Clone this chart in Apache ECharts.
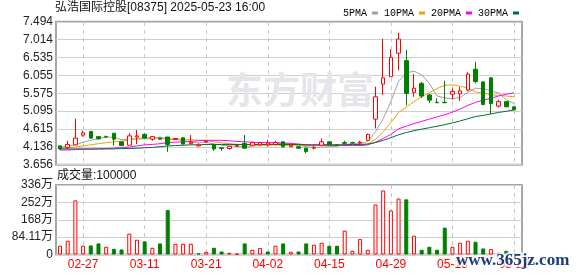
<!DOCTYPE html>
<html><head><meta charset="utf-8">
<script src="https://cdn.jsdelivr.net/npm/echarts@6/dist/echarts.min.js"></script>
<style>html,body{margin:0;padding:0;background:#fff}#c{width:578px;height:276px}</style>
</head><body><div id="c"></div>
<script>
const dates = ['02-24','02-25','02-26','02-27','02-28','03-03','03-04','03-05','03-06','03-07',
  '03-10','03-11','03-12','03-13','03-14','03-17','03-18','03-19','03-20','03-21',
  '03-24','03-25','03-26','03-27','03-28','03-31','04-01','04-02','04-03','04-07',
  '04-08','04-09','04-10','04-11','04-14','04-15','04-16','04-17','04-22','04-23',
  '04-24','04-25','04-28','04-29','04-30','05-02','05-06','05-07','05-08','05-09',
  '05-12','05-13','05-14','05-15','05-16','05-19','05-20','05-21','05-22','05-23'];
// [open, close, low, high]
const ohlc = [
  [4.16,4.08,4.06,4.17],[4.12,4.20,4.07,4.30],[4.19,4.37,4.18,4.89],[4.45,4.51,4.41,4.57],[4.55,4.37,4.36,4.55],
  [4.41,4.35,4.33,4.43],[4.41,4.40,4.37,4.44],[4.50,4.34,4.17,4.50],[4.27,4.17,4.16,4.28],[4.18,4.43,4.18,4.50],
  [4.40,4.43,4.21,4.59],[4.47,4.37,4.35,4.50],[4.34,4.41,4.30,4.42],[4.37,4.34,4.33,4.38],[4.40,4.20,4.00,4.40],
  [4.33,4.36,4.32,4.37],[4.38,4.21,4.20,4.39],[4.22,4.26,4.20,4.45],[4.16,4.19,4.14,4.23],[4.27,4.29,4.25,4.31],
  [4.20,4.08,4.03,4.21],[4.11,4.09,4.03,4.11],[4.09,4.15,4.06,4.16],[4.15,4.17,4.14,4.18],[4.23,4.10,4.08,4.45],
  [4.18,4.25,4.16,4.27],[4.19,4.25,4.17,4.27],[4.19,4.24,4.14,4.32],[4.20,4.25,4.17,4.30],[4.27,4.14,4.12,4.28],
  [4.14,4.18,4.13,4.20],[4.14,4.10,4.09,4.15],[4.10,4.01,3.96,4.11],[4.10,4.11,4.07,4.18],[4.18,4.27,4.17,4.36],
  [4.27,4.19,4.18,4.28],[4.19,4.18,4.17,4.20],[4.25,4.23,4.20,4.30],[4.25,4.24,4.22,4.27],[4.24,4.26,4.22,4.30],
  [4.31,4.47,4.30,4.49],[4.88,5.48,4.63,5.75],[5.82,5.99,5.53,7.04],[6.02,6.54,6.02,6.76],[6.65,7.03,6.19,7.20],
  [6.45,5.57,5.25,6.74],[5.60,5.71,5.48,6.09],[5.84,5.50,5.45,5.88],[5.53,5.39,5.31,5.55],[5.33,5.32,5.32,5.44],
  [5.33,5.32,5.31,5.91],[5.55,5.62,5.40,5.70],[5.56,5.64,5.37,5.74],[5.66,6.09,5.63,6.14],[6.22,5.89,5.84,6.42],
  [5.88,5.27,5.26,5.89],[5.99,5.30,5.02,6.00],[5.23,5.35,5.19,5.40],[5.35,5.21,5.21,5.35],[5.21,5.13,5.12,5.21]
];
const volumes = [424000,667000,2620000,424000,439000,536000,374000,276000,244000,1010000,
  715000,634000,325000,536000,2150000,520000,520000,520000,50000,130000,
  325000,146000,80000,35000,536000,228000,309000,146000,424000,536000,
  130000,146000,536000,472000,569000,424000,424000,1155000,179000,748000,
  228000,2420000,3100000,2130000,2710000,2670000,910000,228000,374000,228000,
  1300000,374000,569000,667000,618000,293000,260000,98000,179000,80000];
const volDir = ['r','r','r','r','g','g','r','g','g','r','r','g','r','g','g','r','r','r','g','r',
  'g','g','r','r','g','r','r','g','r','g','r','g','g','r','r','g','g','r','r','r',
  'r','r','r','r','r','g','r','g','g','g','g','r','r','r','g','g','r','r','g','g'];
const ma5 = [4.13,4.15,4.19,4.26,4.31,4.36,4.40,4.39,4.33,4.34,4.35,4.35,4.36,4.40,4.35,4.34,4.30,4.27,4.24,4.26,
  4.21,4.18,4.16,4.16,4.12,4.15,4.18,4.20,4.22,4.23,4.21,4.18,4.14,4.11,4.13,4.14,4.15,4.20,4.22,4.22,
  4.28,4.54,4.89,5.35,5.90,6.12,6.17,6.07,5.84,5.50,5.45,5.43,5.46,5.60,5.71,5.70,5.64,5.58,5.40,5.30];
const ma10 = [4.10,4.11,4.13,4.16,4.19,4.22,4.25,4.27,4.29,4.32,4.36,4.38,4.38,4.36,4.34,4.35,4.33,4.32,4.32,4.31,
  4.27,4.24,4.22,4.20,4.19,4.18,4.18,4.18,4.19,4.17,4.18,4.18,4.17,4.16,4.18,4.17,4.17,4.17,4.17,4.18,
  4.21,4.34,4.54,4.79,5.06,5.20,5.35,5.48,5.59,5.70,5.79,5.80,5.76,5.72,5.61,5.58,5.53,5.52,5.50,5.48];
const ma20 = [4.05,4.05,4.06,4.07,4.07,4.08,4.09,4.10,4.12,4.13,4.16,4.19,4.20,4.22,4.25,4.26,4.27,4.28,4.30,4.31,
  4.31,4.31,4.30,4.28,4.27,4.26,4.25,4.25,4.25,4.24,4.23,4.21,4.19,4.18,4.19,4.18,4.18,4.17,4.18,4.17,
  4.19,4.26,4.36,4.47,4.62,4.69,4.76,4.82,4.88,4.94,5.00,5.07,5.15,5.25,5.33,5.39,5.44,5.50,5.55,5.59];
const ma30 = [4.08,4.08,4.08,4.08,4.08,4.08,4.08,4.08,4.09,4.09,4.10,4.11,4.12,4.14,4.16,4.17,4.18,4.19,4.19,4.20,
  4.20,4.20,4.20,4.20,4.20,4.20,4.20,4.20,4.20,4.20,4.20,4.20,4.19,4.19,4.19,4.19,4.19,4.19,4.20,4.20,
  4.21,4.25,4.31,4.38,4.46,4.52,4.57,4.61,4.65,4.69,4.73,4.78,4.83,4.89,4.95,4.98,5.02,5.06,5.09,5.13];
const priceTicks = ['3.656','4.136','4.615','5.095','5.575','6.055','6.535','7.014','7.494'];
const volTicks = ['0','84.11万','168万','252万','336万'];
const priceMin = 3.656, priceMax = 7.494, volMax = 3364400;

const FONT = '"Liberation Sans", Arial, "Noto Sans CJK SC"';
const chart = echarts.init(document.getElementById('c'), null, {renderer: 'canvas'});
const dashed = {show: true, interval: (i) => i % 8 === 3, lineStyle: {color: '#c8c8c8', type: [4, 4], width: 1}};
const PT = 21.8, PH = 142.9, VT = 185, VH = 69.5;

const volData = volumes.map((v, i) => ({
  value: v,
  itemStyle: volDir[i] === 'r'
    ? {color: '#ffffff', borderColor: '#ff0000', borderWidth: 1}
    : {color: '#008000', borderColor: '#008000', borderWidth: 1}
}));

const ma = (name, data, color) => ({
  name, type: 'line', xAxisIndex: 0, yAxisIndex: 0, data, symbol: 'none',
  lineStyle: {color, width: 1}, itemStyle: {color}, z: 3, clip: false
});

chart.setOption({
  animation: false,
  textStyle: {fontFamily: FONT},
  grid: [
    {left: 60, top: PT, width: 454, height: PH},
    {left: 56, top: PT, width: 466, height: PH, show: true, borderColor: '#a6a6a6', borderWidth: 2},
    {left: 60, top: VT, width: 454, height: VH},
    {left: 56, top: VT, width: 466, height: VH, show: true, borderColor: '#a6a6a6', borderWidth: 2}
  ],
  xAxis: [
    {type: 'category', gridIndex: 0, data: dates, boundaryGap: false,
     axisLine: {show: false}, axisTick: {show: false}, axisLabel: {show: false}, splitLine: dashed},
    {type: 'value', gridIndex: 1, show: false, min: 0, max: 1},
    {type: 'category', gridIndex: 2, data: dates, boundaryGap: false,
     axisLine: {show: false}, axisTick: {show: false},
     axisLabel: {show: true, interval: (i) => i % 8 === 3, color: '#ff0000', fontSize: 12, margin: 4, fontFamily: FONT},
     splitLine: dashed},
    {type: 'value', gridIndex: 3, show: false, min: 0, max: 1}
  ],
  yAxis: [
    {type: 'value', gridIndex: 0, show: false, min: priceMin, max: priceMax, splitLine: {show: false}},
    {type: 'value', gridIndex: 1, min: 0, max: priceTicks.length - 1, interval: 1,
     axisLine: {show: false}, axisTick: {show: false},
     axisLabel: {formatter: (v) => priceTicks[v], color: '#222', fontSize: 12, margin: 3, fontFamily: FONT},
     splitLine: {show: true, lineStyle: {color: '#cfcfcf', width: 1}}},
    {type: 'value', gridIndex: 2, show: false, min: 0, max: volMax, splitLine: {show: false}},
    {type: 'value', gridIndex: 3, min: 0, max: volTicks.length - 1, interval: 1,
     axisLine: {show: false}, axisTick: {show: false},
     axisLabel: {formatter: (v) => volTicks[v], color: '#222', fontSize: 12, margin: 3, fontFamily: FONT},
     splitLine: {show: true, lineStyle: {color: '#cfcfcf', width: 1}}}
  ],
  legend: {
    left: 338, top: 3, itemGap: 6, align: 'right', icon: 'rect', itemWidth: 6, itemHeight: 3,
    textStyle: {fontFamily: '"Liberation Mono", monospace', fontSize: 10, color: '#000'},
    data: ['5PMA', '10PMA', '20PMA', '30PMA']
  },
  graphic: [
    {type: 'text', left: 55, top: 2, z: 10,
     style: {text: '弘浩国际控股[08375] 2025-05-23 16:00', font: '12px ' + FONT, fill: '#111'}},
    {type: 'text', left: 57, top: 170, z: 10,
     style: {text: '成交量:100000', font: '12px ' + FONT, fill: '#111'}},
    {type: 'text', left: 226, top: 71, z: 1, silent: true,
     style: {text: '东方财富', font: 'bold 37px "Noto Sans CJK SC"', fill: '#e6e6ea'}},
    {type: 'text', left: 454, top: 250, z: 100, silent: true,
     style: {text: 'www.365jz.com', font: 'bold 17px "Liberation Serif", serif', fill: '#1d3c7c',
             stroke: 'rgba(255,255,255,0.75)', lineWidth: 4}}
  ],
  series: [
    {type: 'candlestick', xAxisIndex: 0, yAxisIndex: 0, data: ohlc, barWidth: 4, clip: false, z: 4,
     itemStyle: {color: '#ffffff', color0: '#008000', borderColor: '#ff0000', borderColor0: '#008000', borderWidth: 1}},
    ma('5PMA', ma5, '#a0a0a0'),
    ma('10PMA', ma10, '#f0a000'),
    ma('20PMA', ma20, '#ff00ff'),
    ma('30PMA', ma30, '#006d33'),
    {type: 'bar', xAxisIndex: 2, yAxisIndex: 2, data: volData, barWidth: 4, clip: false, z: 4}
  ]
});
</script>
</body></html>
